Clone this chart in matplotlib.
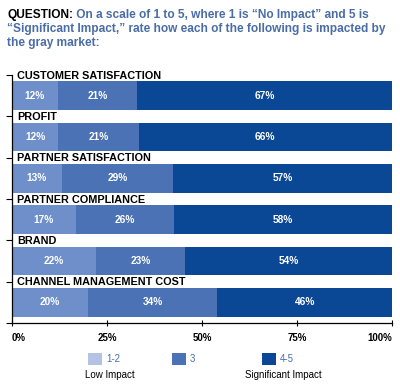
import numpy as np
import matplotlib.pyplot as plt
from matplotlib.patches import Rectangle

plt.rcParams['font.family'] = ['Liberation Sans', 'DejaVu Sans']

# Data
categories = ["CUSTOMER SATISFACTION", "PROFIT", "PARTNER SATISFACTION",
              "PARTNER COMPLIANCE", "BRAND", "CHANNEL MANAGEMENT COST"]
low = [12, 12, 13, 17, 22, 20]      # 1-2
mid = [21, 21, 29, 26, 23, 34]      # 3
high = [67, 66, 57, 58, 54, 46]     # 4-5
xticks = [0, 25, 50, 75, 100]
xticklabels = ["0%", "25%", "50%", "75%", "100%"]
legend_labels = ["1-2", "3", "4-5"]

c_low = "#6e8fca"
c_mid = "#4a72b5"
c_high = "#0a4896"
c_leg_low = "#b4c3e3"
c_title = "#4a6da6"

fig = plt.figure(figsize=(4.0, 3.89), dpi=100)
ax = fig.add_axes([12 / 400, 1 - 323 / 389, 380 / 400, 248 / 389])

vals = np.array([low, mid, high], dtype=float)
# the rows are stretched to fill the bar, since rounding doesn't add up to 100
shares = vals / vals.sum(axis=0) * 100
y = np.arange(len(categories)) + 0.5
left = np.zeros(len(categories))
for k, col in enumerate([c_low, c_mid, c_high]):
    ax.barh(y, shares[k], left=left, height=0.7, color=col, edgecolor='none')
    for i in range(len(categories)):
        ax.text(left[i] + shares[k][i] / 2, y[i], "%d%%" % vals[k][i],
                ha='center', va='center', color='white', fontsize=7.3,
                fontweight='bold')
    left += shares[k]

for i, cat in enumerate(categories):
    ax.text(1.3, y[i] - 0.36, cat, ha='left', va='bottom', fontsize=7.8,
            fontweight='bold', color='black')

ax.set_xlim(0, 100)
ax.set_ylim(len(categories), 0)
ax.set_yticks(np.arange(len(categories) + 1))
ax.set_yticklabels([])
ax.set_xticks(xticks)
ax.set_xticklabels(xticklabels, fontsize=7, fontweight='bold')
labs = ax.get_xticklabels()
labs[0].set_ha('left')
labs[-1].set_ha('right')
ax.tick_params(axis='y', length=4, width=0.8, direction='out')
ax.tick_params(axis='x', length=4, width=0.8, direction='inout', pad=5)
ax.spines['top'].set_visible(False)
ax.spines['right'].set_visible(False)
for s in ['left', 'bottom']:
    ax.spines[s].set_linewidth(0.9)

# title
fs = 8.55
t = fig.text(7 / 400, 1 - 18 / 389, "QUESTION:", fontsize=fs,
             fontweight='bold', color='black', va='baseline')
ax.annotate(" On a scale of 1 to 5, where 1 is \u201cNo Impact\u201d and 5 is",
            xy=(1, 0), xycoords=t, va='bottom', ha='left', fontsize=fs,
            fontweight='bold', color=c_title, annotation_clip=False)
fig.text(7 / 400, 1 - 32 / 389,
         "\u201cSignificant Impact,\u201d rate how each of the following is impacted by",
         fontsize=fs, fontweight='bold', color=c_title, va='baseline')
fig.text(7 / 400, 1 - 46 / 389, "the gray market:", fontsize=fs,
         fontweight='bold', color=c_title, va='baseline')

# legend
lax = fig.add_axes([0, 0, 1, 1])
lax.set_xlim(0, 400)
lax.set_ylim(389, 0)
lax.axis('off')
leg_x = [88, 172, 262]
for x0, col, lab in zip(leg_x, [c_leg_low, c_mid, c_high], legend_labels):
    lax.add_patch(Rectangle((x0, 353), 14, 12, color=col, lw=0))
    lax.text(x0 + 18, 359, lab, ha='left', va='center', fontsize=7,
             color=c_title)
lax.text(110, 375, "Low Impact", ha='center', va='center', fontsize=7)
lax.text(283, 375, "Significant Impact", ha='center', va='center', fontsize=7)

fig.savefig("out.png", dpi=100)
